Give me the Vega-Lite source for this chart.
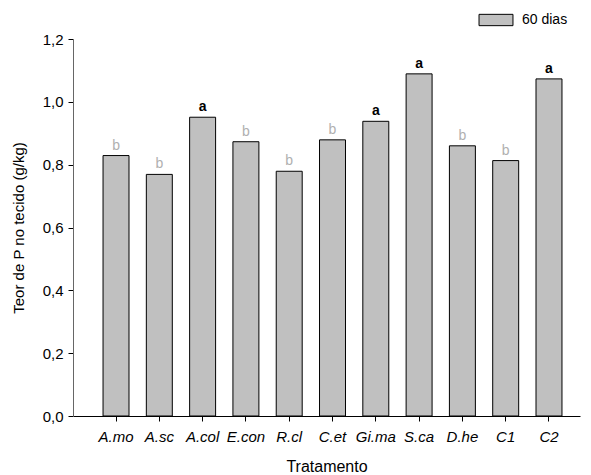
{
  "$schema": "https://vega.github.io/schema/vega-lite/v6.json",
  "autosize": "none",
  "width": 507,
  "height": 377,
  "padding": {"left": 73, "top": 39, "right": 11, "bottom": 59},
  "background": "white",
  "config": {"view": {"stroke": null}, "font": "Liberation Sans"},
  "data": {"values": [
    {"trat": "A.mo", "valor": 0.829, "letra": "b", "serie": "60 dias"},
    {"trat": "A.sc", "valor": 0.769, "letra": "b", "serie": "60 dias"},
    {"trat": "A.col", "valor": 0.951, "letra": "a", "serie": "60 dias"},
    {"trat": "E.con", "valor": 0.873, "letra": "b", "serie": "60 dias"},
    {"trat": "R.cl", "valor": 0.779, "letra": "b", "serie": "60 dias"},
    {"trat": "C.et", "valor": 0.879, "letra": "b", "serie": "60 dias"},
    {"trat": "Gi.ma", "valor": 0.938, "letra": "a", "serie": "60 dias"},
    {"trat": "S.ca", "valor": 1.089, "letra": "a", "serie": "60 dias"},
    {"trat": "D.he", "valor": 0.860, "letra": "b", "serie": "60 dias"},
    {"trat": "C1", "valor": 0.813, "letra": "b", "serie": "60 dias"},
    {"trat": "C2", "valor": 1.073, "letra": "a", "serie": "60 dias"}
  ]},
  "encoding": {
    "x": {
      "field": "trat", "type": "nominal", "sort": null,
      "scale": {"paddingInner": 0.4, "paddingOuter": 0.555, "align": 0.625},
      "axis": {
        "title": "Tratamento", "titleFontSize": 16, "titleFontWeight": "normal", "titleColor": "black",
        "titlePadding": 14,
        "labelAngle": 0, "labelFontSize": 15, "labelFontStyle": "italic", "labelColor": "black",
        "labelPadding": 8,
        "domainColor": "black", "tickColor": "black", "tickSize": 5, "ticks": true
      }
    },
    "y": {
      "field": "valor", "type": "quantitative",
      "scale": {"domain": [0, 1.2], "nice": false},
      "axis": {
        "title": "Teor de P no tecido (g/kg)", "titleFontSize": 15, "titleFontWeight": "normal", "titleColor": "black",
        "titlePadding": 16,
        "values": [0, 0.2, 0.4, 0.6, 0.8, 1.0, 1.2],
        "labelExpr": "replace(format(datum.value, '.1f'), '.', ',')",
        "labelFontSize": 15, "labelColor": "black", "labelPadding": 5,
        "domainColor": "#666666", "tickColor": "black", "tickSize": 5, "grid": false
      }
    }
  },
  "layer": [
    {
      "mark": {"type": "bar", "stroke": "black", "strokeWidth": 1},
      "encoding": {
        "color": {
          "field": "serie", "type": "nominal",
          "scale": {"range": ["#c0c0c0"]},
          "legend": {
            "title": null, "orient": "none", "legendX": 411, "legendY": -31,
            "symbolType": "M-1.5,-0.5h3v1h-3z", "symbolSize": 512,
            "symbolStrokeColor": "black", "symbolStrokeWidth": 1, "symbolFillColor": "#c0c0c0",
            "labelFontSize": 14, "labelColor": "black", "labelOffset": 14
          }
        }
      }
    },
    {
      "transform": [{"filter": "datum.letra === 'b'"}],
      "mark": {"type": "text", "dy": -6, "baseline": "alphabetic", "fontSize": 14, "color": "#b0b0b0"},
      "encoding": {"text": {"field": "letra"}}
    },
    {
      "transform": [{"filter": "datum.letra === 'a'"}],
      "mark": {"type": "text", "dy": -6, "baseline": "alphabetic", "fontSize": 14, "fontWeight": "bold", "color": "black"},
      "encoding": {"text": {"field": "letra"}}
    }
  ]
}
